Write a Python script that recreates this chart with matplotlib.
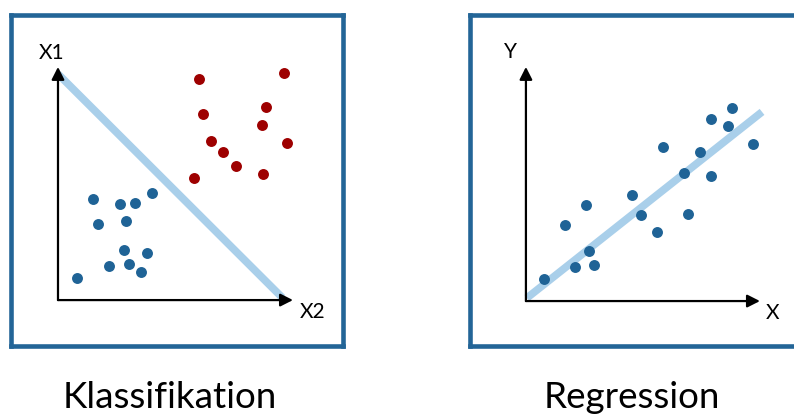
import matplotlib.pyplot as plt

# Klassifikation: zwei Klassen
blue_x = [1.49, 2.64, 3.28, 4.00, 1.70, 2.89, 2.81, 3.79, 2.17, 3.02, 3.53, 0.81]
blue_y = [4.33, 4.12, 4.16, 4.59, 3.26, 3.39, 2.15, 2.02, 1.46, 1.55, 1.20, 0.94]
red_x = [6.00, 9.62, 6.17, 8.85, 8.68, 6.51, 7.02, 9.74, 7.57, 8.72, 5.79]
red_y = [9.48, 9.74, 7.98, 8.28, 7.51, 6.82, 6.35, 6.74, 5.75, 5.41, 5.24]
sep_x = [0.0, 9.55]
sep_y = [9.70, 0.10]

# Regression
reg_x = [0.77, 1.67, 2.56, 2.69, 2.09, 2.91, 4.53, 4.91, 5.60, 5.85, 6.75, 6.92,
         7.44, 7.91, 7.91, 8.63, 8.80, 9.70]
reg_y = [0.94, 3.25, 4.10, 2.14, 1.45, 1.54, 4.53, 3.68, 2.95, 6.58, 5.47, 3.72,
         6.37, 5.34, 7.78, 7.48, 8.25, 6.71]
fit_x = [0.04, 10.09]
fit_y = [0.13, 8.08]

W, H = 794, 416
frame_col = '#236597'
dot_blue = '#1f6396'
dot_red = '#9e0000'
line_col = '#a9cfea'
font = ['Lato', 'DejaVu Sans']

fig = plt.figure(figsize=(W / 100, H / 100), dpi=100)


def panel(x0, x1, y0, y1, xlim, ylim):
    ax = fig.add_axes([x0 / W, 1 - y1 / H, (x1 - x0) / W, (y1 - y0) / H])
    ax.set_xlim(*xlim)
    ax.set_ylim(*ylim)
    ax.set_xticks([])
    ax.set_yticks([])
    for s in ax.spines.values():
        s.set_color(frame_col)
        s.set_linewidth(3.3)
    return ax


def arrows(ax, xend, yend):
    kw = dict(arrowstyle='-|>,head_length=0.75,head_width=0.38', color='black',
              lw=1.6, shrinkA=0, shrinkB=0)
    ax.annotate('', xy=(xend, 0), xytext=(0, 0), arrowprops=kw)
    ax.annotate('', xy=(0, yend), xytext=(0, 0), arrowprops=kw)


# links
ax1 = panel(11, 343, 14.5, 346, (-2.0, 12.13), (-1.97, 12.25))
ax1.plot(sep_x, sep_y, color=line_col, lw=5.5, solid_capstyle='butt', zorder=2)
arrows(ax1, 10.0, 10.0)
ax1.scatter(blue_x, blue_y, s=62, color=dot_blue, zorder=3, linewidths=0)
ax1.scatter(red_x, red_y, s=62, color=dot_red, zorder=3, linewidths=0)
ax1.text(-0.26, 10.6, 'X1', fontsize=15, family=font, ha='center', va='center')
ax1.text(10.85, -0.5, 'X2', fontsize=15, family=font, ha='center', va='center')

# rechts
ax2 = panel(470, 810, 14.5, 346, (-2.39, 12.14), (-1.92, 12.24))
ax2.plot(fit_x, fit_y, color=line_col, lw=5.5, solid_capstyle='butt', zorder=2)
arrows(ax2, 10.0, 10.0)
ax2.scatter(reg_x, reg_y, s=62, color=dot_blue, zorder=3, linewidths=0)
ax2.text(-0.64, 10.64, 'Y', fontsize=15, family=font, ha='center', va='center')
ax2.text(10.55, -0.51, 'X', fontsize=15, family=font, ha='center', va='center')

fig.text(170 / W, 1 - 398 / H, 'Klassifikation', fontsize=26.5, family=font,
         ha='center', va='center')
fig.text(632 / W, 1 - 398 / H, 'Regression', fontsize=26.5, family=font,
         ha='center', va='center')

fig.savefig('out.png', dpi=100)
